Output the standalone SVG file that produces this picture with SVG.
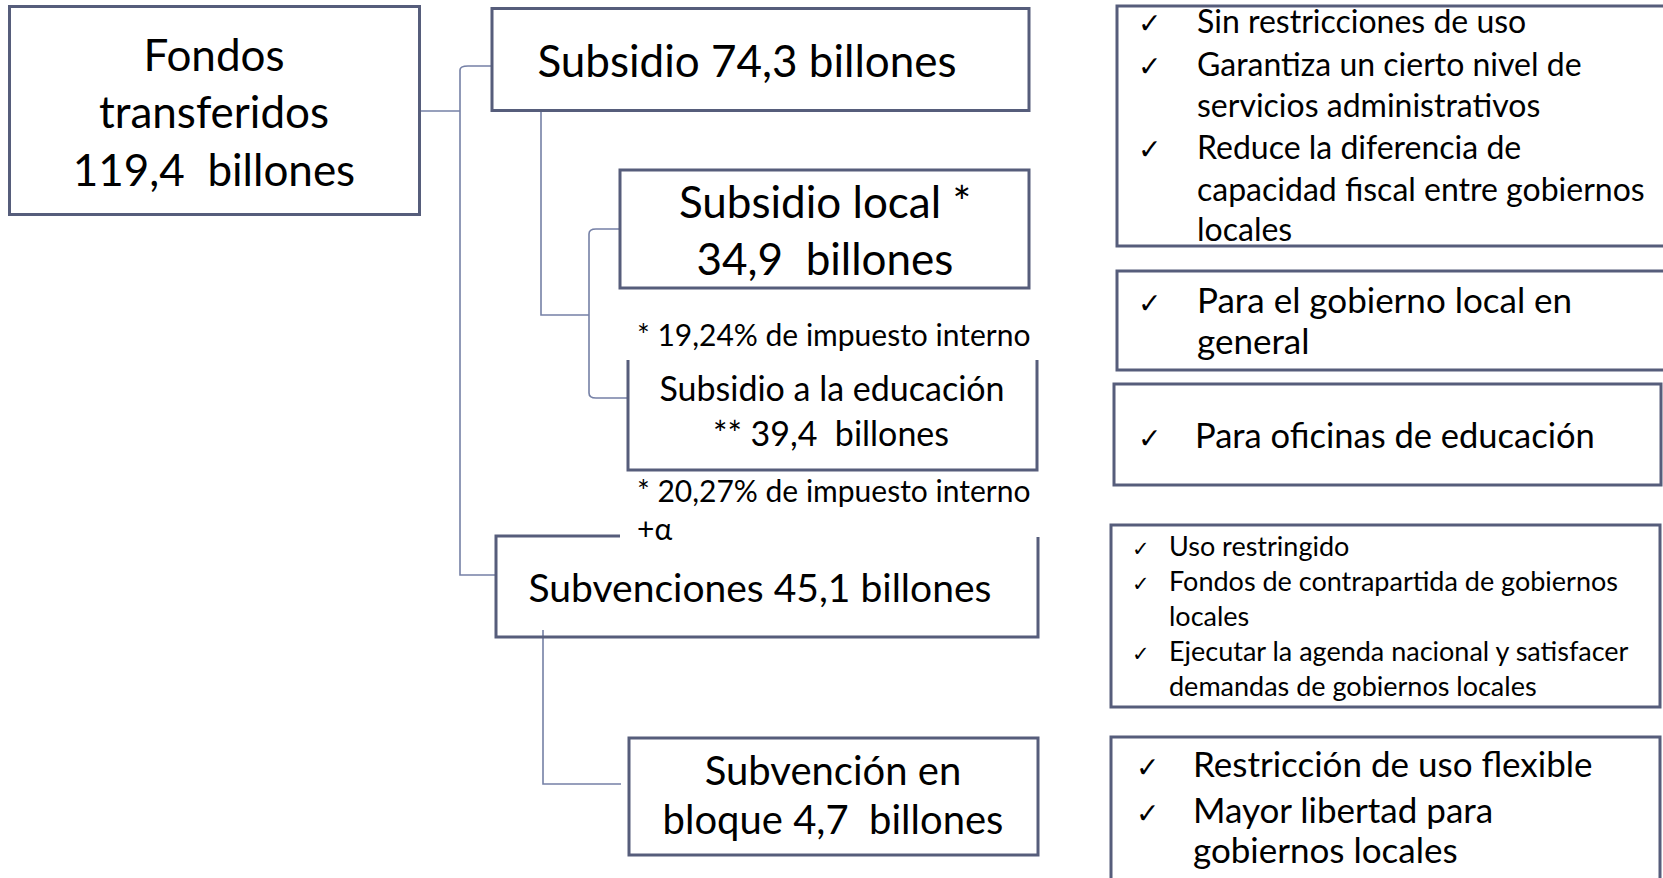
<svg xmlns="http://www.w3.org/2000/svg" width="1663" height="878" viewBox="0 0 1663 878">
<style>
.box{fill:none;stroke:#565d7b;stroke-width:3}
.con{fill:none;stroke:#7580a6;stroke-width:1.6}
.t{font-family:Lato,"Open Sans","DejaVu Sans",sans-serif;fill:#000}
.c{text-anchor:middle}
.ck{font-family:"DejaVu Sans",sans-serif;font-weight:bold;fill:#000}
</style>
<rect width="1663" height="878" fill="#fff"/>
<g id="connectors">
<path class="con" d="M420,111 H460"/>
<path class="con" d="M492,66 H468 Q460,66 460,70 V575 H496"/>
<path class="con" d="M541,111 V315 H589"/>
<path class="con" d="M620,229 H596 Q589,229 589,234 V393 Q589,398 596,398 H628"/>
<path class="con" d="M543,630 V784 H621"/>
</g>
<g id="fondos">
<rect class="box" x="9.5" y="6.5" width="410" height="208"/>
<text class="t c" font-size="44" x="214" y="71">Fondos</text>
<text class="t c" font-size="44" x="214" y="128">transferidos</text>
<text class="t c" font-size="44" x="214" y="186" xml:space="preserve">119,4  billones</text>
</g>
<g id="subsidio">
<rect class="box" x="492" y="8.5" width="537" height="102"/>
<text class="t c" font-size="44" x="747" y="77">Subsidio 74,3 billones</text>
</g>
<g id="subsidio-local">
<rect class="box" x="620" y="170" width="409" height="118"/>
<text class="t c" font-size="44" x="825" y="218">Subsidio local *</text>
<text class="t c" font-size="44" x="825" y="275" xml:space="preserve">34,9  billones</text>
</g>
<g id="nota-local">
<text class="t" font-size="30" x="637" y="346">* 19,24% de impuesto interno</text>
</g>
<g id="subsidio-educacion">
<path class="box" d="M628,360 V470 H1037 V360"/>
<text class="t c" font-size="34" x="832" y="401">Subsidio a la educación</text>
<text class="t c" font-size="34" x="831" y="446" xml:space="preserve">** 39,4  billones</text>
</g>
<g id="nota-educacion">
<text class="t" font-size="30" x="637" y="502">* 20,27% de impuesto interno</text>
<text class="t" font-size="30" x="637" y="540">+α</text>
</g>
<g id="subvenciones">
<path class="box" d="M620,536 H496 V637 H1038 V537"/>
<text class="t c" font-size="39" x="760" y="602">Subvenciones 45,1 billones</text>
</g>
<g id="bloque">
<rect class="box" x="629" y="738" width="409" height="117"/>
<text class="t c" font-size="40" x="833" y="785">Subvención en</text>
<text class="t c" font-size="40" x="833" y="834" xml:space="preserve">bloque 4,7  billones</text>
</g>
<g id="desc-subsidio">
<path class="box" d="M1670,6 H1117 V246 H1670"/>
<text class="ck" font-size="28" x="1138" y="33">✓</text>
<text class="ck" font-size="28" x="1138" y="76">✓</text>
<text class="ck" font-size="28" x="1138" y="159">✓</text>
<text class="t" font-size="32" x="1197" y="33">Sin restricciones de uso</text>
<text class="t" font-size="32" x="1197" y="76">Garantiza un cierto nivel de</text>
<text class="t" font-size="32" x="1197" y="117">servicios administrativos</text>
<text class="t" font-size="32" x="1197" y="159">Reduce la diferencia de</text>
<text class="t" font-size="32" x="1197" y="201">capacidad fiscal entre gobiernos</text>
<text class="t" font-size="32" x="1197" y="241">locales</text>
</g>
<g id="desc-local">
<path class="box" d="M1670,271 H1117 V370 H1670"/>
<text class="ck" font-size="28" x="1138" y="313">✓</text>
<text class="t" font-size="35" x="1197" y="313">Para el gobierno local en</text>
<text class="t" font-size="35" x="1197" y="354">general</text>
</g>
<g id="desc-educacion">
<rect class="box" x="1114" y="384" width="547" height="101"/>
<text class="ck" font-size="28" x="1138" y="448">✓</text>
<text class="t" font-size="34.5" x="1195" y="448">Para oficinas de educación</text>
</g>
<g id="desc-subvenciones">
<rect class="box" x="1111" y="525" width="549" height="182"/>
<text class="ck" font-size="21" x="1132" y="556">✓</text>
<text class="ck" font-size="21" x="1132" y="591">✓</text>
<text class="ck" font-size="21" x="1132" y="661">✓</text>
<text class="t" font-size="27" x="1169" y="556">Uso restringido</text>
<text class="t" font-size="27" x="1169" y="591">Fondos de contrapartida de gobiernos</text>
<text class="t" font-size="27" x="1169" y="626">locales</text>
<text class="t" font-size="27" x="1169" y="661">Ejecutar la agenda nacional y satisfacer</text>
<text class="t" font-size="27" x="1169" y="696">demandas de gobiernos locales</text>
</g>
<g id="desc-bloque">
<path class="box" d="M1111,882 V737 H1660 V882"/>
<text class="ck" font-size="28" x="1136" y="777">✓</text>
<text class="ck" font-size="28" x="1136" y="823">✓</text>
<text class="t" font-size="35" x="1193" y="777">Restricción de uso flexible</text>
<text class="t" font-size="35" x="1193" y="823">Mayor libertad para</text>
<text class="t" font-size="35" x="1193" y="863">gobiernos locales</text>
</g>
</svg>
